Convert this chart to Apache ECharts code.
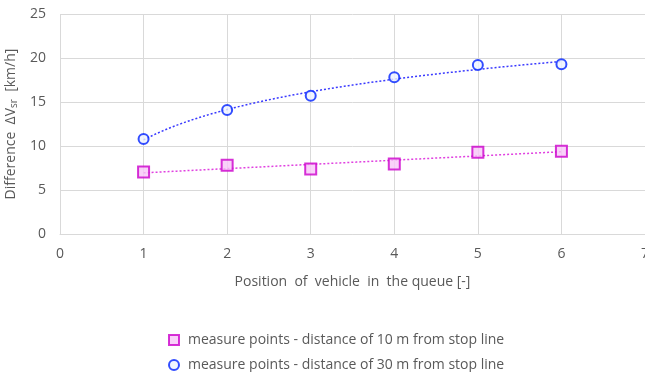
<!DOCTYPE html>
<html><head><meta charset="utf-8">
<script src="https://cdn.jsdelivr.net/npm/echarts@6/dist/echarts.min.js"></script>
<style>html,body{margin:0;padding:0;background:#fff}#c{width:645px;height:372px}</style>
</head><body><div id="c"></div>
<script>
const positions = [1, 2, 3, 4, 5, 6];
const values10m = [7.05, 7.8, 7.4, 7.95, 9.3, 9.4];
const values30m = [10.8, 14.1, 15.7, 17.8, 19.2, 19.3];
const name10 = 'measure points - distance of 10 m from stop line';
const name30 = 'measure points - distance of 30 m from stop line';

// least-squares trendlines computed from the data (linear for 10 m, logarithmic for 30 m)
function fit(xs, ys) {
  const n = xs.length, mx = xs.reduce((a,b)=>a+b)/n, my = ys.reduce((a,b)=>a+b)/n;
  let sxy=0, sxx=0;
  for (let i=0;i<n;i++){ sxy+=(xs[i]-mx)*(ys[i]-my); sxx+=(xs[i]-mx)**2; }
  const b = sxy/sxx; return {a: my-b*mx, b};
}
const lin = fit(positions, values10m);
const lg = fit(positions.map(Math.log), values30m);
const trend10 = [], trend30 = [];
for (let x = 1; x <= 6.0001; x += 0.05) {
  trend10.push([x, lin.a + lin.b*x]);
  trend30.push([x, lg.a + lg.b*Math.log(x)]);
}

const font = 'Open Sans';
const legendBase = {
  orient: 'horizontal', left: 163, itemWidth: 10, itemHeight: 10,
  textStyle: {color: '#595959', fontSize: 14, fontFamily: font, padding: [0,0,0,4]}
};
const chart = echarts.init(document.getElementById('c'));
chart.setOption({
  animation: false,
  textStyle: {fontFamily: font},
  grid: {left: 60, right: 0, top: 14, bottom: 138, containLabel: false, outerBoundsMode: 'none'},
  xAxis: {
    type: 'value', min: 0, max: 7, interval: 1,
    name: 'Position  of  vehicle  in  the queue [-]', nameLocation: 'middle', nameGap: 41,
    nameTextStyle: {color: '#595959', fontSize: 14, fontFamily: font},
    axisLine: {show: true, lineStyle: {color: '#d9d9d9'}},
    axisTick: {show: false},
    axisLabel: {color: '#595959', fontSize: 14, margin: 13, fontFamily: font},
    splitLine: {show: true, lineStyle: {color: '#d9d9d9'}}
  },
  yAxis: {
    type: 'value', min: 0, max: 25, interval: 5,
    name: '{a|Difference  ΔV}{s|sr}{a|  [km/h]}', nameLocation: 'middle', nameGap: 33,
    nameTextStyle: {rich: {
      a: {color: '#595959', fontSize: 14, fontFamily: font},
      s: {color: '#595959', fontSize: 10, fontFamily: font, padding: [6,0,0,0]}
    }},
    axisLine: {show: false},
    axisTick: {show: false},
    axisLabel: {color: '#595959', fontSize: 14, margin: 14, fontFamily: font},
    splitLine: {show: true, lineStyle: {color: '#d9d9d9'}}
  },
  legend: [
    Object.assign({}, legendBase, {top: 328, data: [name10]}),
    Object.assign({}, legendBase, {top: 353, data: [name30]})
  ],
  series: [
    {type: 'line', data: trend10, showSymbol: false, symbol: 'none', silent: true,
     lineStyle: {color: '#e040e0', width: 1.5, type: [2, 2]}, z: 1},
    {type: 'line', data: trend30, showSymbol: false, symbol: 'none', silent: true,
     lineStyle: {color: '#3a3aff', width: 1.5, type: [2, 2]}, z: 1},
    {name: name10, type: 'scatter', symbol: 'rect', symbolSize: 11, z: 3,
     data: positions.map((x,i)=>[x, values10m[i]]),
     itemStyle: {color: '#f7c6f7', borderColor: '#cc00cc', borderWidth: 2}},
    {name: name30, type: 'scatter', symbol: 'circle', symbolSize: 10, z: 3,
     data: positions.map((x,i)=>[x, values30m[i]]),
     itemStyle: {color: '#eef3ff', borderColor: '#0022ff', borderWidth: 2}}
  ]
});
</script></body></html>
